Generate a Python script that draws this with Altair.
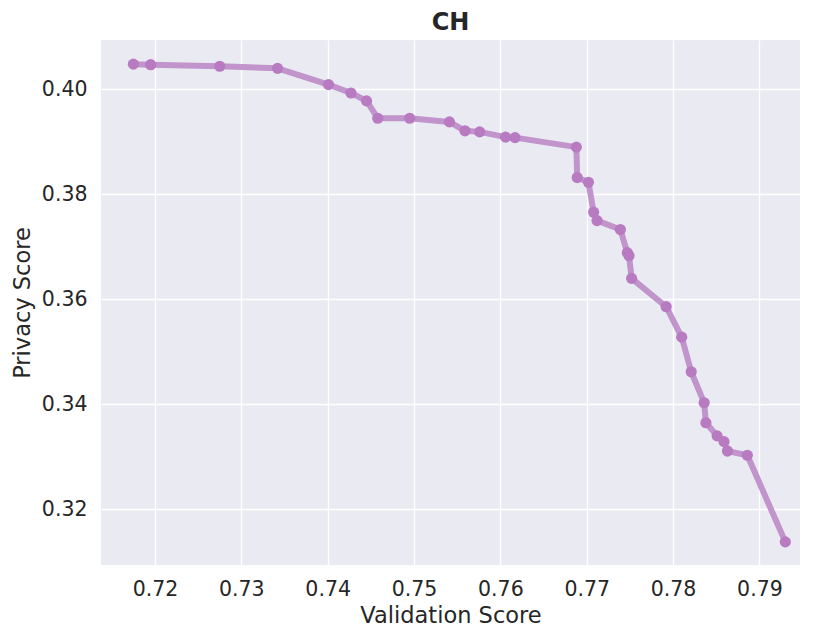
import altair as alt
import pandas as pd

validation = [0.7175, 0.7195, 0.7275, 0.7342, 0.7401, 0.7427, 0.7445, 0.7458,
              0.7495, 0.7541, 0.7559, 0.7576, 0.7606, 0.7617, 0.7688,
              0.7689, 0.7702, 0.7708, 0.7712, 0.7739, 0.7747, 0.7749, 0.7752, 0.7792,
              0.7810, 0.7821, 0.7836, 0.7838, 0.7851, 0.7859, 0.7863, 0.7886, 0.7930]
privacy = [0.4048, 0.4047, 0.4044, 0.4040, 0.4009, 0.3993, 0.3978, 0.3945,
           0.3945, 0.3938, 0.3921, 0.3919, 0.3909, 0.3908, 0.3890,
           0.3832, 0.3823, 0.3766, 0.3750, 0.3733, 0.3689, 0.3683, 0.3640, 0.3586,
           0.3528, 0.3462, 0.3403, 0.3365, 0.3340, 0.3329, 0.3311, 0.3303, 0.3138]
x_ticks = [0.72, 0.73, 0.74, 0.75, 0.76, 0.77, 0.78, 0.79]
y_ticks = [0.32, 0.34, 0.36, 0.38, 0.40]

df = pd.DataFrame({"Validation Score": validation, "Privacy Score": privacy, "order": list(range(len(validation)))})

font = "DejaVu Sans"
x = alt.X("Validation Score:Q",
          scale=alt.Scale(domain=[0.71375, 0.7947], nice=False, zero=False),
          axis=alt.Axis(values=x_ticks, format=".2f", title="Validation Score"))
y = alt.Y("Privacy Score:Q",
          scale=alt.Scale(domain=[0.3094, 0.4094], nice=False, zero=False),
          axis=alt.Axis(values=y_ticks, format=".2f", title="Privacy Score"))

line = alt.Chart(df).mark_line(color="#C194CC", strokeWidth=6, strokeCap="round", strokeJoin="round").encode(
    x=x, y=y, order="order:Q")
pts = alt.Chart(df).mark_point(filled=True, color="#B87BC2", size=125, opacity=1).encode(x=x, y=y)

chart = (line + pts).properties(
    width=699, height=525,
    background="white",
    title=alt.TitleParams("CH", font=font, fontSize=24, fontWeight="bold", color="#262626", offset=5),
    autosize=alt.AutoSizeParams(type="none"),
    padding={"left": 93, "top": 32, "right": 20, "bottom": 75},
).configure_view(fill="#EAEAF2", stroke=None).configure_axis(
    grid=True, gridColor="white", gridWidth=1.3, domain=False, ticks=False,
    labelFont=font, labelFontSize=20.5, labelColor="#262626",
    titleFont=font, titleFontSize=22.5, titleColor="#262626", titleFontWeight="normal",
).configure_axisX(labelPadding=14, titlePadding=5).configure_axisY(labelPadding=14, titlePadding=7)

chart.save("out.html", embed_options={"renderer": "svg", "actions": False})
